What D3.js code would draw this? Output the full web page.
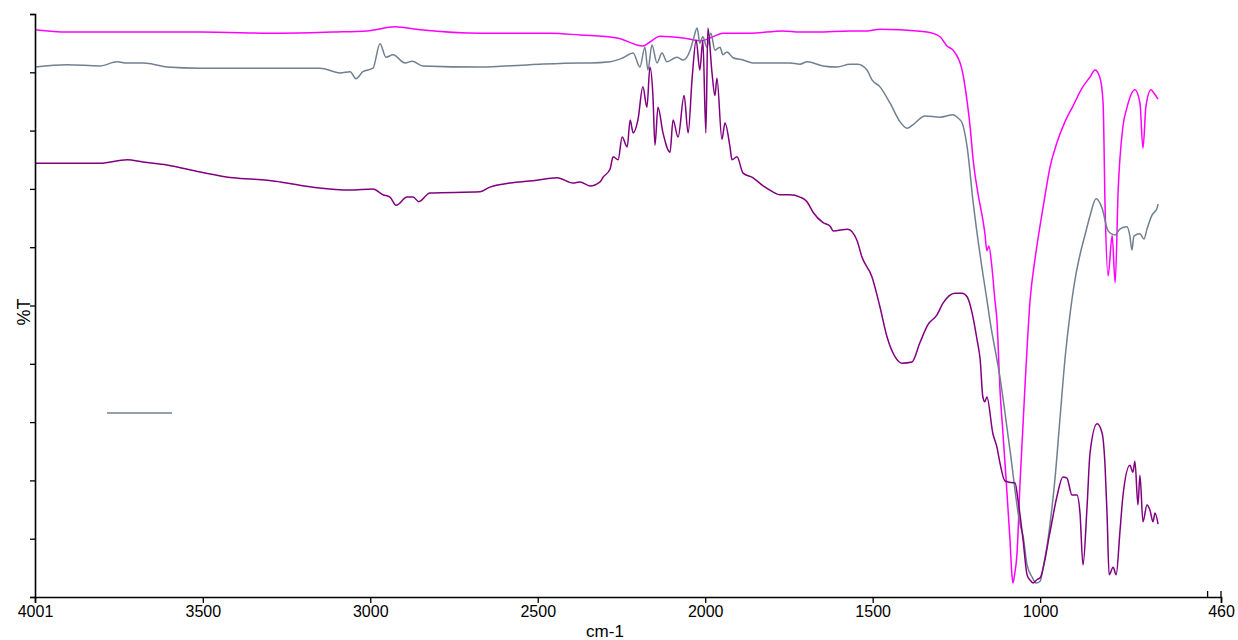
<!DOCTYPE html>
<html>
<head>
<meta charset="utf-8">
<script src="https://cdn.jsdelivr.net/npm/d3@7"></script>
<style>
  html, body { margin: 0; padding: 0; background: #fff; }
  svg { display: block; font-family: "Liberation Sans", Arial, sans-serif; }
</style>
</head>
<body>
<svg id="chart" width="1238" height="640"></svg>
<script>
// ---- data (wavenumber cm-1, %T) ----
const xTickValues = [4001, 3500, 3000, 2500, 2000, 1500, 1000, 460];
const yTickValues = [0, 10, 20, 30, 40, 50, 60, 70, 80, 90, 100];

const magentaSeries = [
  [4001,97.3],[3905,96.9],[3807,96.9],[3508,96.9],[3269,96.7],[3111,96.9],[3010,97.1],
  [2926,97.8],[2851,97.3],[2672,96.7],[2574,96.7],[2463,96.7],[2374,96.4],[2263,95.9],
  [2186,94.5],[2165,95.2],[2135,96.2],[2066,95.9],[2010,95.4],[1977,96.1],[1947,96.7],
  [1866,96.7],[1768,97.1],[1717,96.9],[1666,96.9],[1568,97.1],[1517,97.1],[1478,97.4],
  [1418,97.3],[1338,96.9],[1299,96.1],[1278,94.5],[1260,93.8],[1233,90.4],[1218,85.0],
  [1209,80.6],[1200,75.0],[1185,69.0],[1171,64.7],[1165,62.4],[1159,59.4],[1153,60.2],
  [1144,56.6],[1135,50.9],[1129,47.5],[1120,35.7],[1111,28.1],[1105,23.0],[1090,9.8],
  [1084,3.6],[1081,2.4],[1077,3.6],[1069,7.5],[1060,19.6],[1045,36.4],[1030,50.9],
  [1015,58.1],[1000,63.8],[985,69.0],[971,73.6],[950,77.9],[926,81.5],[902,84.2],
  [875,87.3],[851,89.2],[836,90.4],
  [821,89.0],[812,84.7],[806,66.7],[797,55.1],[785,62.0],[776,53.9],[767,69.8],
  [753,80.6],[741,83.9],[717,87.0],[702,84.7],[693,77.0],[684,84.2],[669,87.0],
  [660,86.4],[648,85.4]
];

const greySeries = [
  [4001,90.9],[3905,91.3],[3807,91.1],[3756,91.8],[3726,91.6],[3679,91.6],[3649,91.4],
  [3607,90.9],[3508,90.7],[3269,90.7],[3150,90.7],[3090,89.9],[3060,90.1],[3043,88.9],
  [3022,90.1],[2992,90.7],[2971,94.9],[2953,92.6],[2932,93.0],[2896,91.6],[2875,91.9],
  [2843,91.1],[2672,90.9],[2523,91.3],[2374,91.6],[2344,91.6],[2284,91.8],[2245,92.5],
  [2215,93.3],[2195,90.9],[2180,94.3],[2171,90.4],[2159,94.7],[2144,91.6],[2129,93.3],
  [2114,91.8],[2084,92.6],[2066,92.1],[2045,93.8],[2036,95.5],[2024,97.6],[2016,95.0],
  [2007,96.1],[1995,94.3],[1983,96.7],[1971,93.8],[1956,94.3],[1947,93.0],[1935,93.5],
  [1917,92.5],[1887,92.1],[1857,91.6],[1798,91.6],[1747,91.6],[1717,91.4],[1696,91.8],
  [1648,91.1],[1606,90.9],[1568,91.4],[1544,91.4],[1517,90.4],[1502,88.7],[1478,87.5],
  [1448,84.7],[1418,81.5],[1397,80.4],[1380,81.0],[1344,82.5],[1299,82.3],[1260,82.7],
  [1248,82.3],[1233,81.3],[1218,77.2],[1200,67.7],[1174,56.6],[1159,51.0],[1150,47.5],
  [1120,37.7],[1090,25.2],[1060,12.5],[1051,10.5],[1039,5.5],[1024,3.4],[1012,2.4],
  [1000,2.7],[991,5.1],[979,8.9],[971,12.3],[956,20.1],[941,30.4],[926,40.7],
  [911,48.4],[896,54.4],[881,58.7],[866,62.1],[851,65.4],[833,68.3],
  [815,66.7],[797,62.8],[776,62.1],[762,63.1],[741,63.5],
  [732,61.9],[726,59.5],[720,61.9],[702,62.3],[690,61.4],[681,63.1],[666,65.5],
  [651,66.7],[648,67.4]
];

const purpleSeries = [
  [4001,74.4],[3807,74.4],[3726,75.0],[3679,74.6],[3607,74.1],[3508,72.9],[3410,71.9],
  [3308,71.5],[3269,71.2],[3159,70.2],[3060,69.8],[2992,70.0],[2962,69.0],[2941,68.6],
  [2923,67.2],[2890,68.6],[2872,68.6],[2855,67.8],[2822,69.3],[2672,69.5],[2643,70.3],
  [2583,71.0],[2514,71.4],[2442,71.9],[2395,71.0],[2374,71.2],[2344,70.5],[2314,71.2],
  [2305,72.0],[2284,73.4],[2275,75.5],[2260,75.0],[2248,78.9],[2233,77.2],[2224,81.8],
  [2215,79.6],[2201,81.8],[2186,87.5],[2174,84.0],[2165,90.9],[2156,85.9],[2150,77.5],
  [2141,84.0],[2126,79.6],[2105,76.3],[2096,81.8],[2081,78.9],[2063,86.0],[2051,79.6],
  [2039,89.0],[2027,95.5],[2016,90.4],[2007,95.5],[1998,79.6],[1992,97.6],[1980,90.1],
  [1971,86.0],[1965,89.0],[1950,78.5],[1941,81.3],[1926,77.2],[1920,75.0],[1905,75.5],
  [1887,72.7],[1857,71.9],[1827,70.5],[1798,69.5],[1777,69.0],[1747,69.0],[1717,68.6],
  [1696,67.8],[1678,66.0],[1648,64.2],[1627,63.6],[1618,62.8],[1574,63.1],[1547,61.2],
  [1532,58.3],[1502,54.9],[1478,49.7],[1457,44.6],[1433,41.2],[1412,40.1],[1383,40.3],
  [1359,43.6],[1335,46.7],[1308,48.4],[1290,50.4],[1254,52.1],[1233,52.1],[1218,51.5],
  [1203,48.7],[1188,44.0],[1179,40.7],[1171,34.3],[1165,33.5],[1159,34.3],[1141,28.0],
  [1129,25.7],[1120,23.0],[1105,19.9],[1081,19.6],[1075,19.6],[1066,16.6],[1051,9.8],
  [1039,3.8],[1030,2.9],[1021,2.4],[1009,3.0],[1000,3.3],[971,11.0],[950,17.2],
  [932,20.6],[920,20.4],[905,17.5],[890,17.5],[881,14.4],[872,5.5],[860,15.4],
  [851,24.7],[830,29.7],[815,28.1],[806,22.3],[800,13.8],[794,3.8],[782,5.1],
  [773,3.8],[762,11.0],[753,17.2],[732,22.6],[723,21.4],[717,23.3],[708,15.8],
  [702,20.9],[693,12.9],[681,15.8],[672,14.9],[663,12.9],[657,14.4],[648,12.5]
];

const seriesList = [
  { name: "", color: "#FF00FF", data: magentaSeries },
  { name: "", color: "#708090", data: greySeries },
  { name: "", color: "#800080", data: purpleSeries }
];

// ---- layout ----
const svg = d3.select("#chart");
const margin = { left: 35, right: 17, top: 14, bottom: 43 };
const W = 1238, H = 640;

const x = d3.scaleLinear().domain([4001, 460]).range([margin.left, W - margin.right]);
const y = d3.scaleLinear().domain([0, 100]).range([H - margin.bottom, margin.top]);

// lines
const line = d3.line().x(d => x(d[0])).y(d => y(d[1])).curve(d3.curveMonotoneX);
svg.append("g").selectAll("path")
  .data(seriesList)
  .join("path")
  .attr("d", s => line(s.data))
  .attr("fill", "none")
  .attr("stroke", s => s.color)
  .attr("stroke-width", 1.5)
  .attr("stroke-linejoin", "round");

// x axis
const xAxis = d3.axisBottom(x).tickValues(xTickValues).tickFormat(d3.format("d")).tickSizeOuter(0).tickSize(6).tickPadding(3);
const gx = svg.append("g").attr("transform", `translate(0,${y(0)})`).call(xAxis);
gx.select(".domain").attr("stroke", "#000").attr("stroke-width", 1.6);
gx.selectAll(".tick line").attr("stroke", "#000").attr("stroke-width", 1.3);
gx.selectAll(".tick text").attr("fill", "#000").style("font-size", "16px");
// small inner ticks near right end
gx.selectAll(".innerTick").data([500, 460]).join("line")
  .attr("x1", d => x(d)).attr("x2", d => x(d))
  .attr("y1", 0).attr("y2", -6).attr("stroke", "#000").attr("stroke-width", 1.3);

// y axis
const yAxis = d3.axisLeft(y).tickValues(yTickValues).tickFormat("").tickSizeOuter(0).tickSize(5);
const gy = svg.append("g").attr("transform", `translate(${x(4001)},0)`).call(yAxis);
gy.select(".domain").attr("stroke", "#000").attr("stroke-width", 1.6);
gy.selectAll(".tick line").attr("stroke", "#000").attr("stroke-width", 1.3);

// axis titles
svg.append("text")
  .attr("x", 605).attr("y", 637)
  .attr("text-anchor", "middle")
  .style("font-size", "17px")
  .text("cm-1");
svg.append("text")
  .attr("transform", `translate(30,312) rotate(-90)`)
  .attr("text-anchor", "middle")
  .style("font-size", "18px")
  .text("%T");

// legend (swatch only)
const legend = svg.append("g").attr("transform", "translate(107,413)");
legend.append("line")
  .attr("x1", 0).attr("x2", 65).attr("y1", 0).attr("y2", 0)
  .attr("stroke", "#708090").attr("stroke-width", 1.5);
</script>
</body>
</html>
